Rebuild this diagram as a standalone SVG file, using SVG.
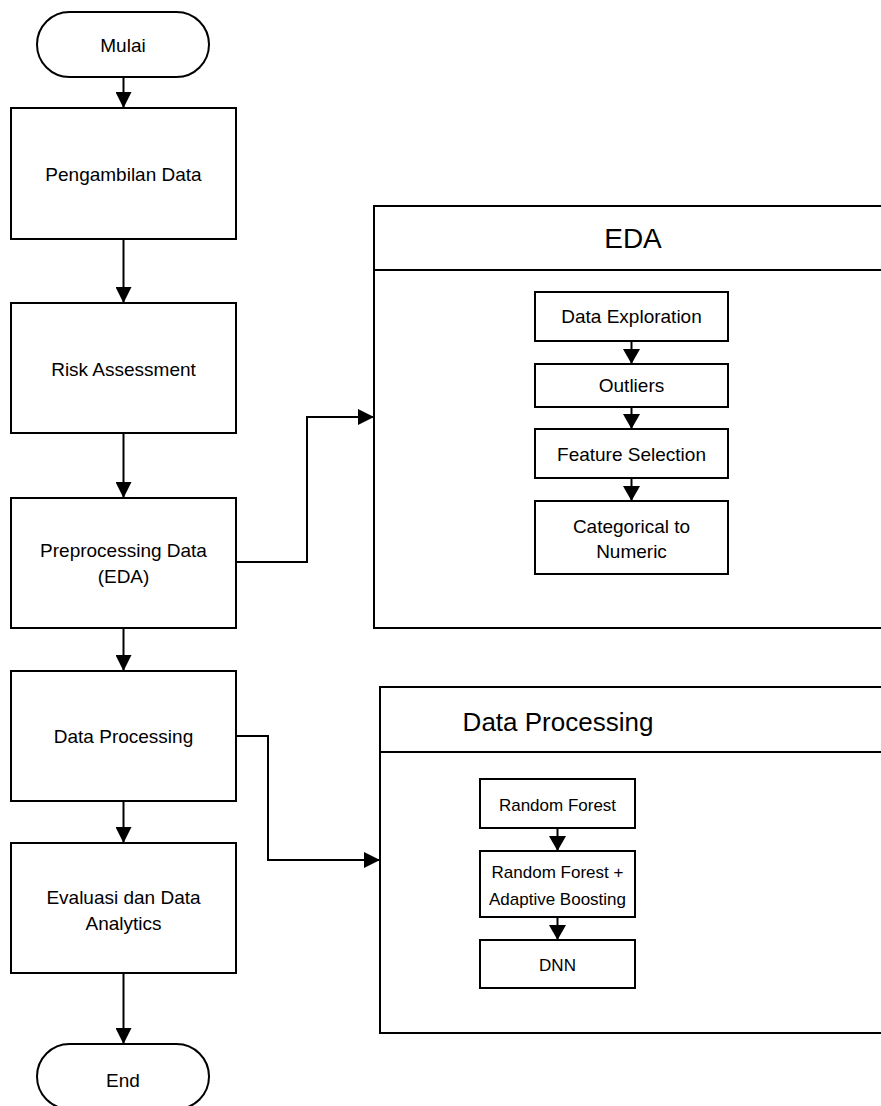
<svg xmlns="http://www.w3.org/2000/svg" width="881" height="1106" viewBox="0 0 881 1106">
  <style>
    .box { fill: #ffffff; stroke: #000000; stroke-width: 2; }
    .link { fill: none; stroke: #000000; stroke-width: 2; }
    text { font-family: "Liberation Sans", Arial, sans-serif; font-size: 19px; fill: #000000; text-anchor: middle; }
    .title { font-size: 28px; }
    .small { font-size: 17px; }
  </style>
  <defs>
    <marker id="arrow" markerUnits="userSpaceOnUse" viewBox="0 0 16 16" markerWidth="16" markerHeight="16" refX="16" refY="8" orient="auto">
      <path d="M0,0 L16,8 L0,16 z" fill="#000000"/>
    </marker>
    <marker id="arrow-sm" markerUnits="userSpaceOnUse" viewBox="0 0 15 17" markerWidth="15" markerHeight="17" refX="15" refY="8.5" orient="auto">
      <path d="M0,0 L15,8.5 L0,17 z" fill="#000000"/>
    </marker>
  </defs>
  <rect width="881" height="1106" fill="#ffffff"/>

  <!-- detail panels (drawn first so the inner links sit on top) -->
  <g id="eda-panel">
    <rect class="box" x="374" y="206" width="520" height="422"/>
    <line class="link" x1="374" y1="270" x2="894" y2="270"/>
    <text class="title" x="633" y="248">EDA</text>
  </g>
  <g id="processing-panel">
    <rect class="box" x="380" y="687" width="520" height="346"/>
    <line class="link" x1="380" y1="752" x2="900" y2="752"/>
    <text class="title" x="558" y="731" style="font-size:26px">Data Processing</text>
  </g>

  <!-- connectors -->
  <g id="connectors">
    <line class="link" x1="123.5" y1="77" x2="123.5" y2="108" marker-end="url(#arrow)"/>
    <line class="link" x1="123.5" y1="239" x2="123.5" y2="303" marker-end="url(#arrow)"/>
    <line class="link" x1="123.5" y1="433" x2="123.5" y2="498" marker-end="url(#arrow)"/>
    <line class="link" x1="123.5" y1="628" x2="123.5" y2="671" marker-end="url(#arrow)"/>
    <line class="link" x1="123.5" y1="801" x2="123.5" y2="843" marker-end="url(#arrow)"/>
    <line class="link" x1="123.5" y1="973" x2="123.5" y2="1044" marker-end="url(#arrow)"/>
    <polyline class="link" points="236,562 307,562 307,417 374,417" marker-end="url(#arrow)"/>
    <polyline class="link" points="236,736 268,736 268,860 380,860" marker-end="url(#arrow)"/>
    <line class="link" x1="631.5" y1="341" x2="631.5" y2="364" marker-end="url(#arrow-sm)"/>
    <line class="link" x1="631.5" y1="407" x2="631.5" y2="429" marker-end="url(#arrow-sm)"/>
    <line class="link" x1="631.5" y1="478" x2="631.5" y2="501" marker-end="url(#arrow-sm)"/>
    <line class="link" x1="557.5" y1="828" x2="557.5" y2="851" marker-end="url(#arrow-sm)"/>
    <line class="link" x1="557.5" y1="917" x2="557.5" y2="940" marker-end="url(#arrow-sm)"/>
  </g>

  <!-- main flow -->
  <g id="mulai">
    <rect class="box" x="37" y="12" width="172" height="65" rx="32.5" ry="32.5"/>
    <text x="123" y="51.5">Mulai</text>
  </g>
  <g id="pengambilan-data">
    <rect class="box" x="11" y="108" width="225" height="131"/>
    <text x="123.5" y="181">Pengambilan Data</text>
  </g>
  <g id="risk-assessment">
    <rect class="box" x="11" y="303" width="225" height="130"/>
    <text x="123.5" y="376">Risk Assessment</text>
  </g>
  <g id="preprocessing-data">
    <rect class="box" x="11" y="498" width="225" height="130"/>
    <text x="123.5" y="557">Preprocessing Data</text>
    <text x="123.5" y="583">(EDA)</text>
  </g>
  <g id="data-processing">
    <rect class="box" x="11" y="671" width="225" height="130"/>
    <text x="123.5" y="743">Data Processing</text>
  </g>
  <g id="evaluasi">
    <rect class="box" x="11" y="843" width="225" height="130"/>
    <text x="123.5" y="904">Evaluasi dan Data</text>
    <text x="123.5" y="930">Analytics</text>
  </g>
  <g id="end">
    <rect class="box" x="37" y="1044" width="172" height="65" rx="32.5" ry="32.5"/>
    <text x="123" y="1087">End</text>
  </g>

  <!-- EDA steps -->
  <g id="data-exploration">
    <rect class="box" x="535" y="292" width="193" height="49"/>
    <text x="631.5" y="323">Data Exploration</text>
  </g>
  <g id="outliers">
    <rect class="box" x="535" y="364" width="193" height="43"/>
    <text x="631.5" y="392">Outliers</text>
  </g>
  <g id="feature-selection">
    <rect class="box" x="535" y="429" width="193" height="49"/>
    <text x="631.5" y="461">Feature Selection</text>
  </g>
  <g id="categorical-to-numeric">
    <rect class="box" x="535" y="501" width="193" height="73"/>
    <text x="631.5" y="533">Categorical to</text>
    <text x="631.5" y="558">Numeric</text>
  </g>

  <!-- Data Processing steps -->
  <g id="random-forest">
    <rect class="box" x="480" y="779" width="155" height="49"/>
    <text class="small" x="557.5" y="811">Random Forest</text>
  </g>
  <g id="rf-adaboost">
    <rect class="box" x="480" y="851" width="155" height="66"/>
    <text class="small" x="557.5" y="878">Random Forest +</text>
    <text class="small" x="557.5" y="905">Adaptive Boosting</text>
  </g>
  <g id="dnn">
    <rect class="box" x="480" y="940" width="155" height="48"/>
    <text class="small" x="557.5" y="971">DNN</text>
  </g>
</svg>
